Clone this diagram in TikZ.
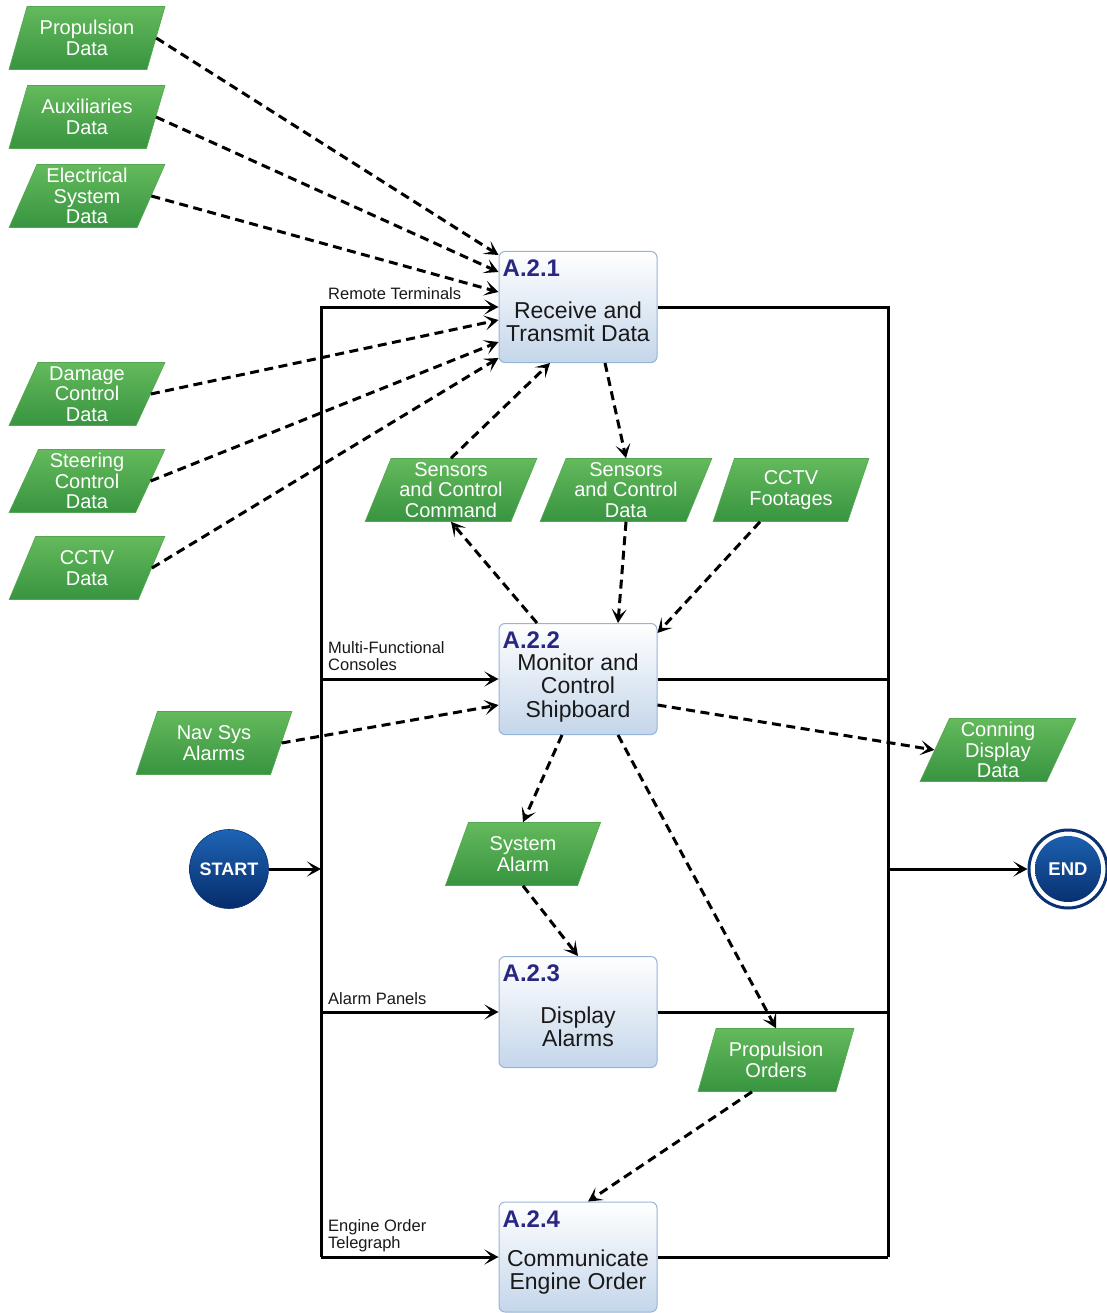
\documentclass[tikz,border=0pt]{standalone}
\usepackage{fontspec}
\setmainfont{Liberation Sans}
\usetikzlibrary{shapes.geometric,arrows.meta,calc}

\definecolor{paratop}{RGB}{100,186,92}
\definecolor{parabot}{RGB}{56,148,64}
\definecolor{paraedge}{RGB}{84,166,80}
\definecolor{boxbot}{RGB}{196,214,234}
\definecolor{boxedge}{RGB}{150,180,215}
\definecolor{titleblue}{RGB}{40,40,130}
\definecolor{inktext}{RGB}{25,25,25}
\definecolor{termtop}{RGB}{30,100,180}
\definecolor{termbot}{RGB}{6,44,108}
\definecolor{termedge}{RGB}{10,50,115}

\begin{document}
\begin{tikzpicture}[x=1pt,y=-1pt,
  >={Stealth[length=14pt,width=15pt,inset=7pt]},
  flow/.style={line width=3pt,->,black},
  frame/.style={line width=3pt,black},
  dataflow/.style={line width=3pt,dash pattern=on 9pt off 5.5pt,->,black},
  data/.style={shape=trapezium,trapezium left angle=68,trapezium right angle=112,
    trapezium stretches=true,minimum width=156pt,minimum height=63pt,inner sep=0pt,
    top color=paratop,bottom color=parabot,draw=paraedge,line width=0.6pt,
    text=white,align=center,font=\fontsize{20}{20.5}\selectfont},
  procbox/.style={rectangle,rounded corners=6pt,minimum width=158pt,minimum height=111pt,
    top color=white,bottom color=boxbot,draw=boxedge,line width=1pt},
  proctitle/.style={anchor=north west,inner sep=0pt,text=titleblue,
    font=\bfseries\fontsize{24}{24}\selectfont},
  proctext/.style={align=center,inner sep=0pt,text=inktext,
    font=\fontsize{23}{23.5}\selectfont},
  lbl/.style={inner sep=0pt,text=inktext,align=left,font=\fontsize{16.5}{17.5}\selectfont},
  term/.style={circle,minimum size=79pt,inner sep=0pt,top color=termtop,bottom color=termbot,
    draw=termedge,line width=0.6pt,text=white,font=\bfseries\fontsize{18}{18}\selectfont},
  endterm/.style={circle,minimum size=78pt,inner sep=0pt,fill=white,draw=termedge,
    line width=3pt,text=white,font=\bfseries\fontsize{18.5}{18.5}\selectfont,
    path picture={\shade[top color=termtop,bottom color=termbot]
      (path picture bounding box.center) circle (33pt);}}
]
\useasboundingbox (0,0) rectangle (1107,1313);

% terminators
\node[term] (start) at (229,869) {START};
\node[endterm] (end) at (1068,869) {END};

% process boxes
\node[procbox] (a1) at (578,307) {};
\node[procbox] (a2) at (578,679) {};
\node[procbox] (a3) at (578,1012) {};
\node[procbox,minimum height=110pt] (a4) at (578,1257) {};

\node[proctitle] (t1) at ([shift={(4pt,-9pt)}]a1.north west) {A.2.1};
\node[proctitle] (t2) at ([shift={(4pt,-9pt)}]a2.north west) {A.2.2};
\node[proctitle] (t3) at ([shift={(4pt,-9pt)}]a3.north west) {A.2.3};
\node[proctitle] (t4) at ([shift={(4pt,-9pt)}]a4.north west) {A.2.4};

\node[proctext] (b1) at (578,322) {Receive and\\Transmit Data};
\node[proctext] (b2) at (578,688) {Monitor and\\Control\\Shipboard};
\node[proctext] (b3) at (578,1027) {Display\\Alarms};
\node[proctext] (b4) at (578,1272) {Communicate\\Engine Order};

% data items
\node[data] (pd) at (87,38) {Propulsion\\Data};
\node[data] (ad) at (87,117) {Auxiliaries\\Data};
\node[data] (ed) at (87,196) {Electrical\\System\\Data};
\node[data] (dc) at (87,394) {Damage\\Control\\Data};
\node[data] (stc) at (87,481) {Steering\\Control\\Data};
\node[data] (cd) at (87,568) {CCTV\\Data};
\node[data,minimum width=172pt] (scc) at (451,490) {Sensors\\and Control\\Command};
\node[data,minimum width=172pt] (scd) at (626,490) {Sensors\\and Control\\Data};
\node[data] (cf) at (791,490) {CCTV\\Footages};
\node[data] (nav) at (214,743) {Nav Sys\\Alarms};
\node[data] (con) at (998,750) {Conning\\Display\\Data};
\node[data] (sa) at (523,854) {System\\Alarm};
\node[data] (po) at (776,1060) {Propulsion\\Orders};

% frame corners and junctions
\coordinate (l2) at (321,679);
\coordinate (l3) at (321,1012);
\coordinate (l4) at (321,1257);
\coordinate (r4) at (888,1257);
\coordinate (r2) at (888,679);
\coordinate (r3) at (888,1012);
\coordinate (lm) at (321,869);
\coordinate (rm) at (888,869);

% mechanism lines
\draw[flow] (l4) |- (a1.west);
\draw[frame] (a1.east) -| (r4);
\draw[flow] (l2) -- (a2.west);
\draw[frame] (a2.east) -- (r2);
\draw[flow] (l3) -- (a3.west);
\draw[frame] (a3.east) -- (r3);
\draw[flow] (l4) -- (a4.west);
\draw[frame] (a4.east) -- (r4);
\draw[flow] (start.east) -- (lm);
\draw[flow] (rm) -- (end.west);

% mechanism labels
\node[lbl,anchor=base west] (lrt) at (328,299) {Remote Terminals};
\node[lbl,anchor=north west] (lmf) at (328,641) {Multi-Functional\\Consoles};
\node[lbl,anchor=base west] (lap) at (328,1004) {Alarm Panels};
\node[lbl,anchor=north west] (leo) at (328,1219) {Engine Order\\Telegraph};

% data flows
\draw[dataflow] (pd.east) -- ([yshift=52pt]a1.west);
\draw[dataflow] (ad.east) -- ([yshift=35pt]a1.west);
\draw[dataflow] (ed.east) -- ([yshift=15pt]a1.west);
\draw[dataflow] (dc.east) -- ([yshift=-13pt]a1.west);
\draw[dataflow] (stc.east) -- ([yshift=-35pt]a1.west);
\draw[dataflow] (cd.east) -- ([yshift=-51pt]a1.west);
\draw[dataflow] (scc.north) -- ([xshift=-28pt]a1.south);
\draw[dataflow] ([xshift=-41pt]a2.north) -- (scc.south);
\draw[dataflow] ([xshift=27pt]a1.south) -- (scd.north);
\draw[dataflow] (scd.south) -- ([xshift=40pt]a2.north);
\draw[dataflow] ([xshift=-31pt]cf.south) -- ([yshift=-10pt]a2.north east);
\draw[dataflow] (nav.east) -- ([yshift=-26pt]a2.west);
\draw[dataflow] ([yshift=-26pt]a2.east) -- (con.west);
\draw[dataflow] ([xshift=-16pt]a2.south) -- (sa.north);
\draw[dataflow] (sa.south) -- (a3.north);
\draw[dataflow] ([xshift=40pt]a2.south) -- (po.north);
\draw[dataflow] ([xshift=-24pt]po.south) -- ([xshift=10pt]a4.north);
\end{tikzpicture}
\end{document}
